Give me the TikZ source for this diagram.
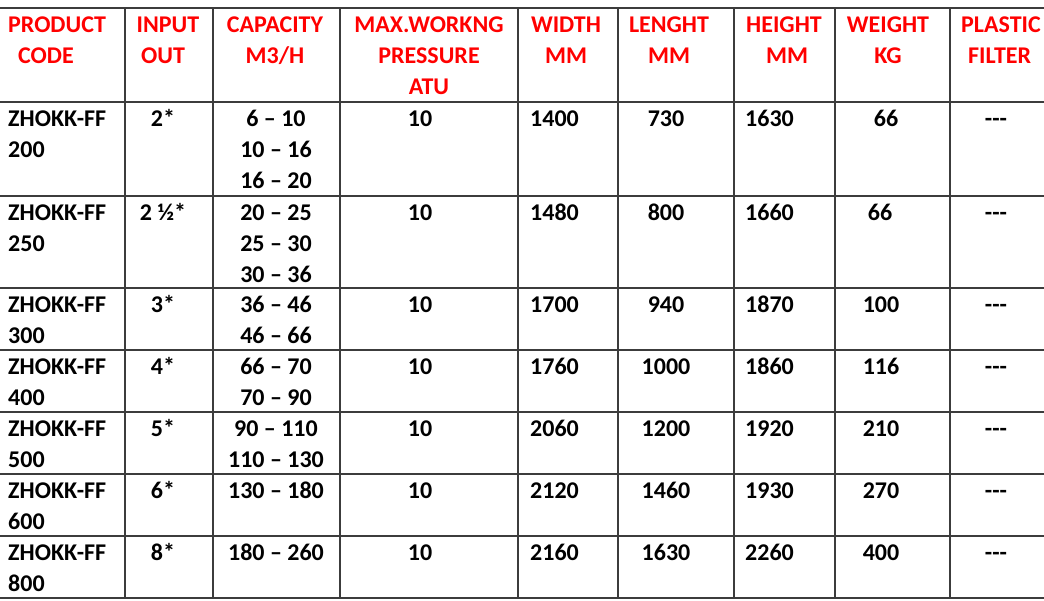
\documentclass[tikz,border=0pt]{standalone}
\usepackage{fontspec}
\setmainfont{Carlito}
\begin{document}
\begin{tikzpicture}[x=1pt,y=-1pt,
  txt/.style={inner sep=0pt,font=\fontsize{24}{31}\selectfont\bfseries},
  hd/.style={txt,text={rgb,255:red,255;green,0;blue,0}},
  grid/.style={draw={rgb,255:red,60;green,60;blue,60},line width=1.4pt}]
\useasboundingbox (0,0) rectangle (1044,600);
\foreach \y in {8,102,196,288,350,412,474,536,598} \draw[grid] (0,\y) -- (1044,\y);
\foreach \x in {125,213,340,518,618,734,835,950} \draw[grid] (\x,8) -- (\x,598);
% header
\node[hd,anchor=base west] (h1a) at (8,32) {PRODUCT};
\node[hd,anchor=base] (h1b) at (46,63) {CODE};
\node[hd,anchor=base] (h2a) at (168,32) {INPUT};
\node[hd,anchor=base] (h2b) at (163,63) {OUT};
\node[hd,anchor=base] (h3a) at (275,32) {CAPACITY};
\node[hd,anchor=base] (h3b) at (275,63) {M3/H};
\node[hd,anchor=base] (h4a) at (429,32) {MAX.WORKNG};
\node[hd,anchor=base] (h4b) at (429,63) {PRESSURE};
\node[hd,anchor=base] (h4c) at (429,94) {ATU};
\node[hd,anchor=base] (h5a) at (566,32) {WIDTH};
\node[hd,anchor=base] (h5b) at (566,63) {MM};
\node[hd,anchor=base] (h6a) at (669,32) {LENGHT};
\node[hd,anchor=base] (h6b) at (669,63) {MM};
\node[hd,anchor=base] (h7a) at (784,32) {HEIGHT};
\node[hd,anchor=base] (h7b) at (787,63) {MM};
\node[hd,anchor=base] (h8a) at (888,32) {WEIGHT};
\node[hd,anchor=base] (h8b) at (888,63) {KG};
\node[hd,anchor=base west] (h9a) at (961,32) {PLASTIC};
\node[hd,anchor=base west] (h9b) at (968,63) {FILTER};
\foreach \t/\c/\i/\caps/\w/\l/\h/\g/\gx [count=\n] in {
  102/200/2*/{6 – 10,10 – 16,16 – 20}/1400/730/1630/66/886,
  196/250/2 ½*/{20 – 25,25 – 30,30 – 36}/1480/800/1660/66/880,
  288/300/3*/{36 – 46,46 – 66}/1700/940/1870/100/881,
  350/400/4*/{66 – 70,70 – 90}/1760/1000/1860/116/881,
  412/500/5*/{90 – 110,110 – 130}/2060/1200/1920/210/881,
  474/600/6*/{130 – 180}/2120/1460/1930/270/881,
  536/800/8*/{180 – 260}/2160/1630/2260/400/881}{
  \pgfmathsetmacro\b{\t+24}
  \node[txt,anchor=base west] (code\n) at (8,\b) {ZHOKK-FF};
  \node[txt,anchor=base west] (codeb\n) at (8,\b+31) {\c};
  \node[txt,anchor=base] (in\n) at (163,\b) {\i};
  \foreach \cp [count=\k from 0] in \caps
    \node[txt,anchor=base] (cap\n-\k) at (276,\b+31*\k) {\cp};
  \node[txt,anchor=base] (p\n) at (420,\b) {10};
  \node[txt,anchor=base west] (w\n) at (530,\b) {\w};
  \node[txt,anchor=base] (l\n) at (666,\b) {\l};
  \node[txt,anchor=base west] (hh\n) at (745,\b) {\h};
  \node[txt,anchor=base] (g\n) at (\gx,\b) {\g};
  \node[txt,anchor=base] (f\n) at (996,\b) {-{}-{}-};
}
\end{tikzpicture}
\end{document}
